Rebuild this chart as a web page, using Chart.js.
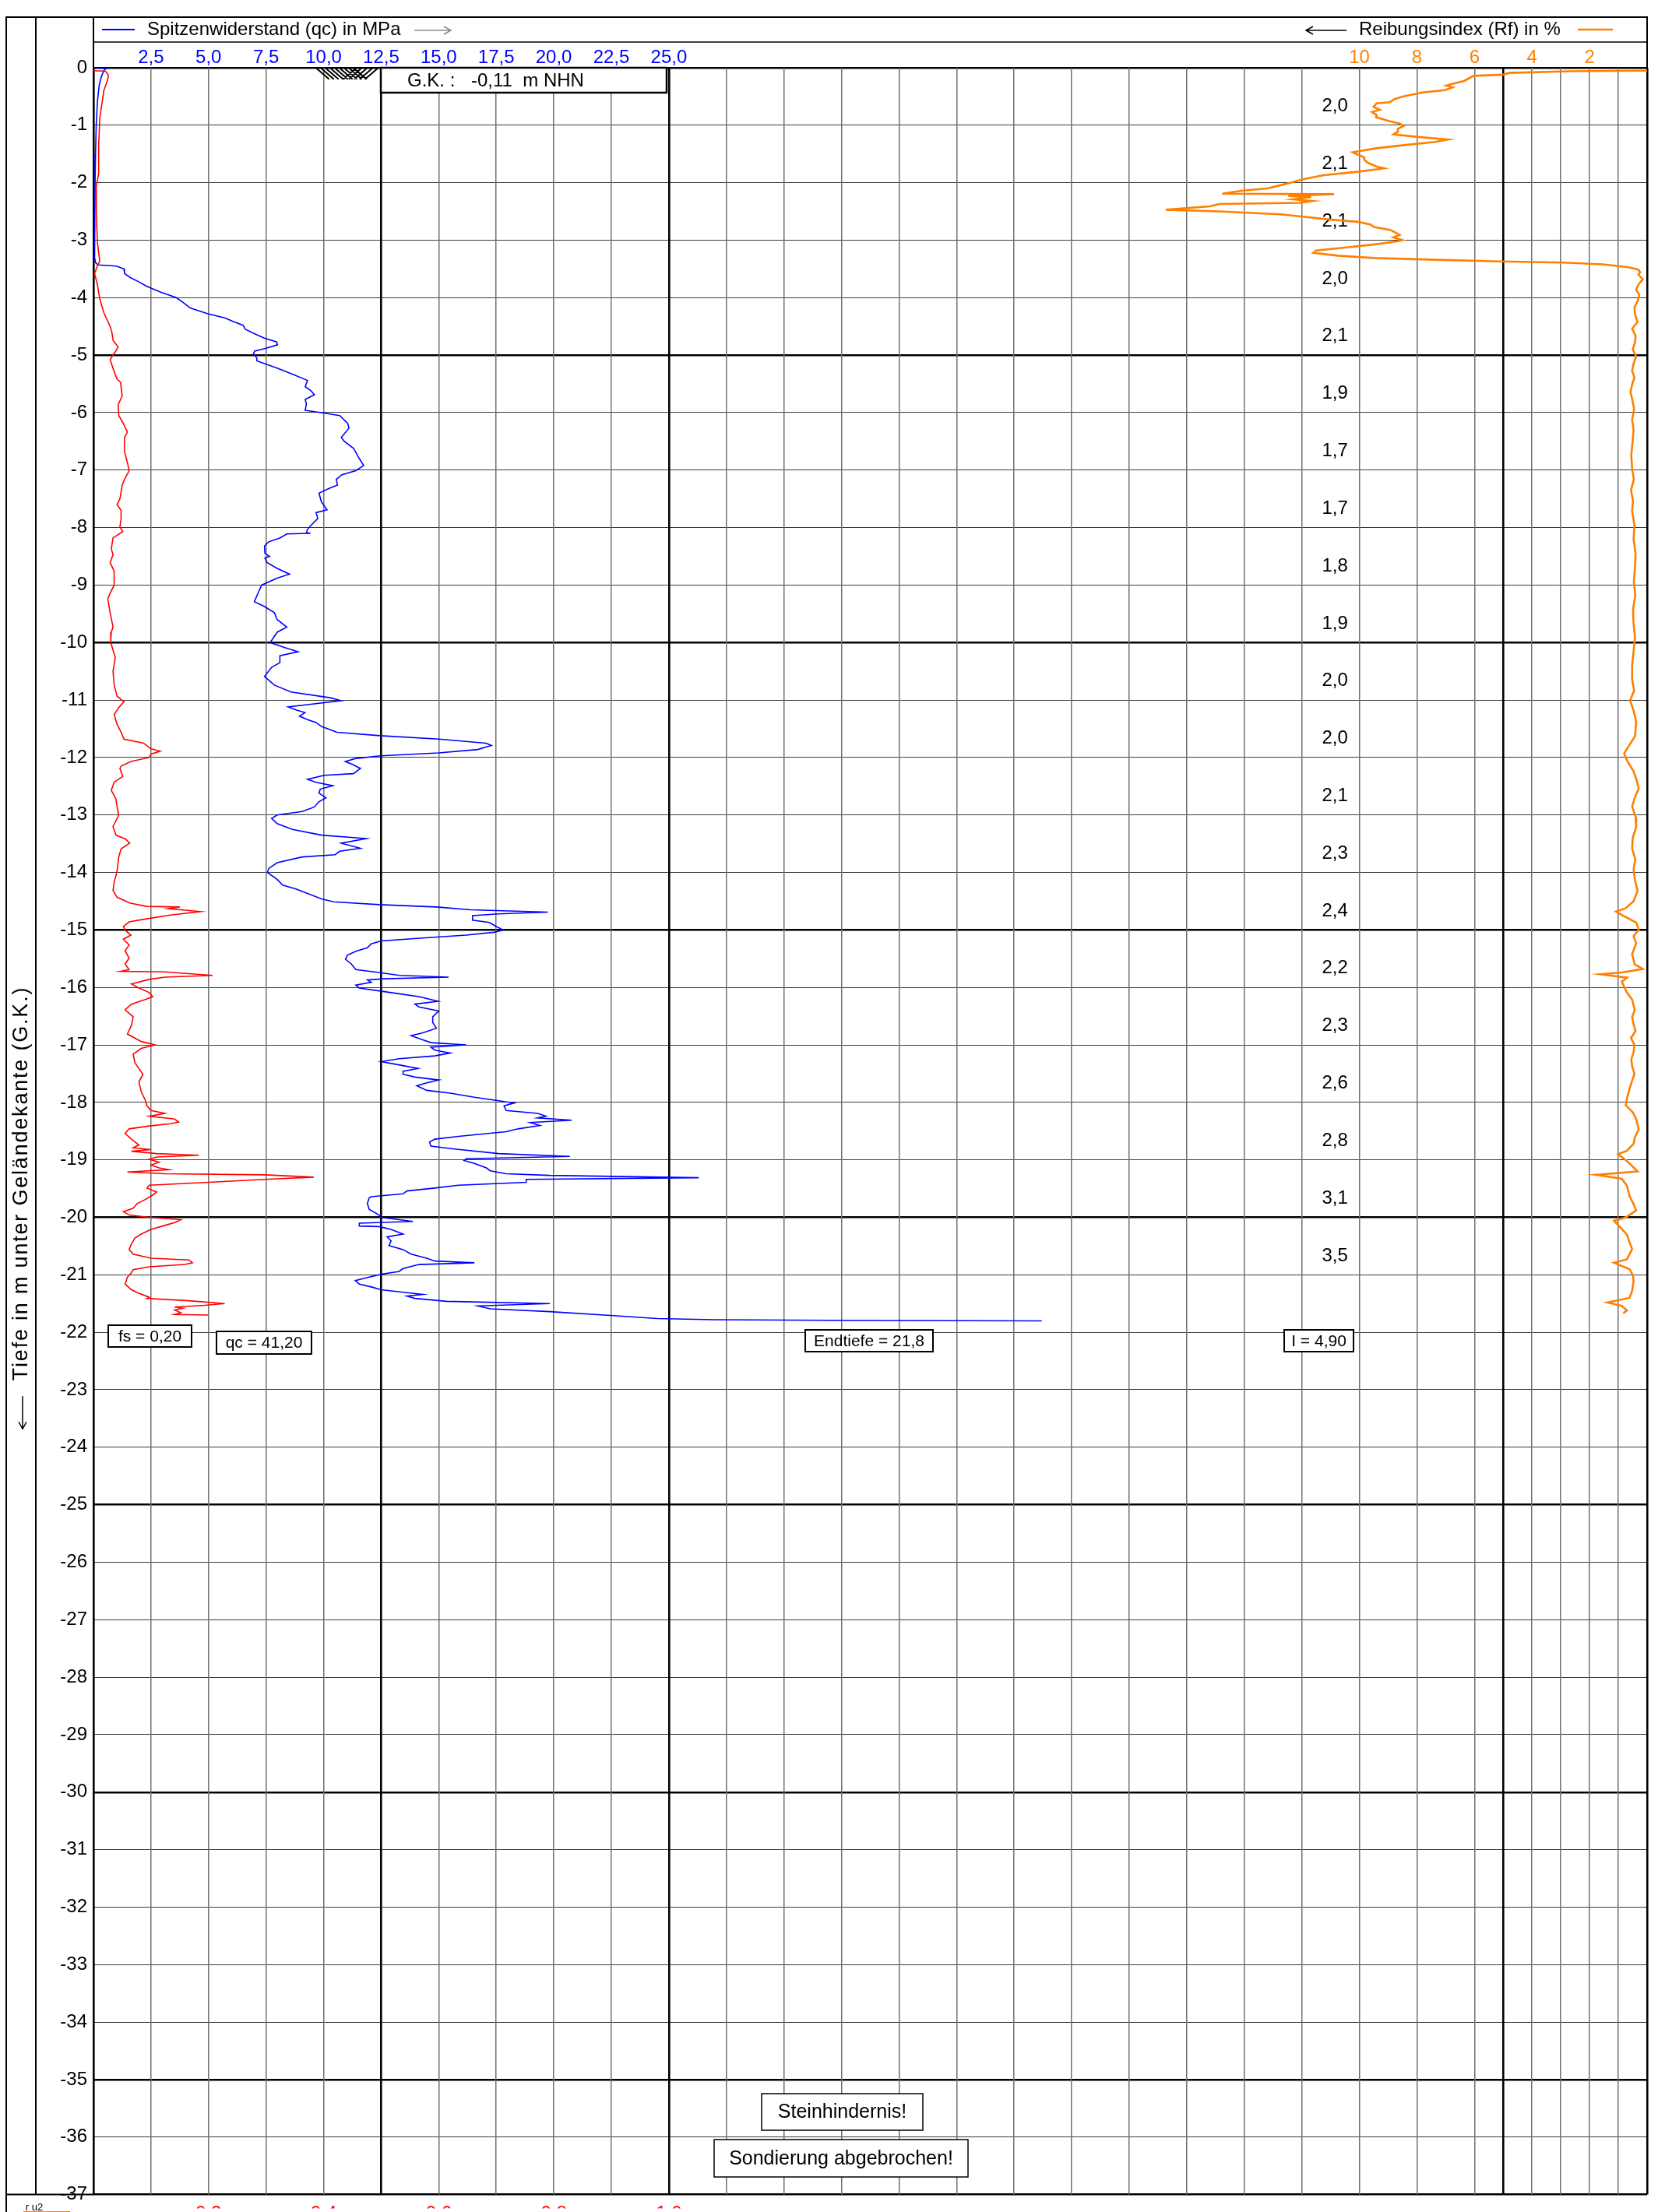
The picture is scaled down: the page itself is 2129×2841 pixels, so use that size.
<!DOCTYPE html>
<html>
<head>
<meta charset="utf-8">
<script src="https://cdn.jsdelivr.net/npm/chart.js@4/dist/chart.umd.min.js"></script>
<style>
  html, body { margin: 0; padding: 0; background: #fff; }
  canvas { display: block; }
</style>
</head>
<body>
<canvas id="cpt" width="2129" height="2841"></canvas>
<script>
// Drucksondierung: Spitzenwiderstand qc, Mantelreibung fs, Reibungsindex Rf über die Tiefe

// --- Spitzenwiderstand qc [MPa] ---
const qcDepth = [0, -0.01, -0.05, -0.15, -0.3, -0.6, -1.0, -1.5, -2.0, -2.5, -3.0, -3.3, -3.39, -3.43, -3.45, -3.48, -3.5, -3.58, -3.65, -3.72, -3.8, -3.9, -4.0, -4.1, -4.18, -4.28, -4.35, -4.42, -4.48, -4.55, -4.62, -4.7, -4.77, -4.82, -4.88, -4.93, -4.98, -5.05, -5.1, -5.23, -5.34, -5.44, -5.55, -5.62, -5.69, -5.77, -5.85, -5.96, -6.0, -6.05, -6.19, -6.27, -6.43, -6.5, -6.62, -6.8, -6.92, -7.01, -7.08, -7.16, -7.26, -7.31, -7.4, -7.55, -7.69, -7.74, -7.84, -7.94, -8.03, -8.09, -8.1, -8.11, -8.18, -8.25, -8.32, -8.45, -8.5, -8.53, -8.61, -8.71, -8.81, -8.88, -9.0, -9.14, -9.29, -9.36, -9.48, -9.6, -9.73, -9.82, -10.0, -10.09, -10.16, -10.23, -10.35, -10.43, -10.59, -10.74, -10.86, -10.96, -11.01, -11.08, -11.12, -11.17, -11.22, -11.28, -11.34, -11.39, -11.46, -11.56, -11.62, -11.68, -11.75, -11.79, -11.86, -11.92, -11.97, -12.02, -12.07, -12.12, -12.19, -12.28, -12.31, -12.38, -12.43, -12.49, -12.55, -12.62, -12.7, -12.77, -12.86, -12.94, -13.0, -13.06, -13.15, -13.25, -13.35, -13.41, -13.49, -13.58, -13.63, -13.69, -13.73, -13.83, -13.93, -14.0, -14.12, -14.22, -14.29, -14.46, -14.51, -14.56, -14.6, -14.65, -14.69, -14.72, -14.75, -14.83, -14.87, -14.94, -15.0, -15.04, -15.09, -15.14, -15.19, -15.24, -15.31, -15.37, -15.44, -15.51, -15.59, -15.69, -15.74, -15.79, -15.82, -15.85, -15.87, -15.91, -15.96, -16.01, -16.06, -16.11, -16.16, -16.24, -16.29, -16.34, -16.41, -16.51, -16.61, -16.71, -16.79, -16.84, -16.91, -16.96, -17.0, -17.04, -17.09, -17.14, -17.19, -17.24, -17.29, -17.36, -17.41, -17.46, -17.51, -17.56, -17.61, -17.66, -17.71, -17.79, -17.84, -17.91, -17.97, -18.01, -18.06, -18.14, -18.19, -18.24, -18.27, -18.31, -18.35, -18.4, -18.46, -18.51, -18.59, -18.64, -18.69, -18.76, -18.81, -18.89, -18.94, -18.98, -19.01, -19.06, -19.14, -19.19, -19.24, -19.27, -19.31, -19.34, -19.39, -19.44, -19.49, -19.54, -19.59, -19.64, -19.66, -19.76, -19.86, -19.96, -20.0, -20.04, -20.07, -20.1, -20.15, -20.16, -20.21, -20.29, -20.34, -20.41, -20.49, -20.56, -20.64, -20.71, -20.76, -20.79, -20.82, -20.89, -20.94, -20.99, -21.04, -21.1, -21.16, -21.21, -21.26, -21.31, -21.34, -21.37, -21.41, -21.46, -21.5, -21.54, -21.59, -21.64, -21.71, -21.76, -21.78, -21.79, -21.8];
const qcMPa = [0, 0.55, 0.45, 0.35, 0.25, 0.17, 0.12, 0.09, 0.07, 0.06, 0.05, 0.05, 0.09, 0.2, 1.0, 1.2, 1.33, 1.35, 1.6, 1.95, 2.3, 2.9, 3.6, 3.95, 4.2, 4.97, 5.7, 6.1, 6.5, 6.6, 6.95, 7.4, 7.96, 8.0, 7.5, 7.0, 6.95, 7.1, 7.1, 8.0, 8.7, 9.3, 9.2, 9.45, 9.6, 9.2, 9.25, 9.2, 9.9, 10.7, 11.05, 11.1, 10.77, 10.9, 11.3, 11.55, 11.74, 11.4, 10.8, 10.55, 10.6, 10.28, 9.8, 9.9, 10.15, 9.67, 9.75, 9.5, 9.3, 9.25, 9.43, 8.4, 8.1, 7.6, 7.43, 7.45, 7.65, 7.45, 7.55, 7.98, 8.52, 7.98, 7.31, 7.15, 6.99, 7.37, 7.86, 7.98, 8.4, 7.98, 7.68, 8.34, 8.89, 8.1, 8.1, 7.74, 7.43, 7.86, 8.58, 10.28, 10.76, 9.3, 8.46, 8.8, 9.19, 8.95, 9.3, 9.67, 9.91, 10.58, 12.45, 15.0, 17.05, 17.29, 16.7, 15.0, 12.45, 11.36, 10.94, 11.25, 11.6, 11.3, 10.03, 9.3, 9.67, 10.4, 9.85, 9.8, 10.1, 9.79, 9.6, 9.07, 7.98, 7.74, 7.98, 8.64, 9.91, 11.85, 10.76, 11.6, 10.7, 10.5, 9.07, 7.98, 7.62, 7.56, 7.98, 8.22, 8.82, 9.91, 10.43, 12.41, 14.9, 16.38, 19.74, 17.6, 16.47, 16.47, 17.2, 17.5, 17.8, 17.4, 16.2, 14.3, 12.5, 12.07, 11.9, 11.4, 11.03, 10.95, 11.2, 11.4, 12.4, 13.3, 15.43, 12.6, 11.9, 12.07, 11.4, 11.55, 12.41, 13.28, 14.14, 14.97, 13.97, 14.14, 15.0, 14.74, 14.74, 14.9, 14.31, 13.8, 14.31, 14.66, 16.2, 14.66, 14.83, 15.5, 14.83, 13.28, 12.5, 13.45, 14.1, 13.45, 13.45, 13.97, 15.0, 14.48, 14.05, 14.48, 15.5, 16.55, 17.6, 18.28, 17.84, 17.93, 19.3, 19.66, 19.3, 20.78, 18.97, 19.4, 18.45, 17.93, 15.86, 14.83, 14.6, 14.66, 15.69, 17.6, 20.7, 16.2, 16.1, 16.55, 17.07, 17.24, 17.93, 19.83, 26.3, 18.8, 18.8, 15.86, 14.83, 13.62, 13.45, 12.07, 11.98, 11.9, 11.98, 12.41, 12.5, 13.28, 13.88, 11.55, 11.55, 12.41, 12.93, 13.45, 12.76, 12.93, 12.84, 13.45, 13.8, 14.48, 14.83, 16.55, 14.14, 13.45, 13.28, 12.5, 11.98, 11.38, 11.55, 12.07, 12.5, 13.62, 14.31, 13.62, 13.97, 15.34, 19.83, 16.7, 17.24, 19.83, 22.6, 24.5, 27.0, 32.0, 41.2];

// --- Mantelreibung fs [MPa] ---
const fsDepth = [-0.05, -0.06, -0.13, -0.2, -0.4, -0.88, -1.36, -1.84, -2.09, -2.57, -3.05, -3.37, -3.44, -3.58, -3.78, -4.02, -4.26, -4.5, -4.6, -4.74, -4.86, -4.94, -5.03, -5.08, -5.23, -5.42, -5.47, -5.71, -5.86, -6.05, -6.19, -6.34, -6.43, -6.68, -6.87, -7.01, -7.16, -7.26, -7.5, -7.6, -7.7, -7.84, -7.99, -8.07, -8.18, -8.37, -8.47, -8.61, -8.76, -9.0, -9.14, -9.24, -9.48, -9.73, -9.82, -10.0, -10.26, -10.5, -10.74, -10.93, -11.03, -11.13, -11.25, -11.42, -11.56, -11.68, -11.75, -11.85, -11.89, -11.94, -12.0, -12.07, -12.15, -12.19, -12.33, -12.43, -12.57, -12.72, -12.86, -13.0, -13.2, -13.35, -13.42, -13.49, -13.59, -13.73, -13.98, -14.17, -14.31, -14.43, -14.53, -14.59, -14.6, -14.63, -14.68, -14.74, -14.81, -14.86, -14.94, -15.0, -15.09, -15.16, -15.26, -15.36, -15.49, -15.59, -15.69, -15.72, -15.73, -15.79, -15.82, -15.86, -15.94, -16.01, -16.09, -16.16, -16.21, -16.29, -16.39, -16.51, -16.66, -16.81, -16.94, -17.0, -17.06, -17.16, -17.31, -17.51, -17.64, -17.81, -17.96, -18.06, -18.14, -18.19, -18.24, -18.29, -18.34, -18.37, -18.41, -18.46, -18.54, -18.64, -18.74, -18.79, -18.82, -18.85, -18.89, -18.92, -18.95, -18.99, -19.04, -19.09, -19.14, -19.17, -19.21, -19.24, -19.26, -19.3, -19.34, -19.39, -19.44, -19.49, -19.56, -19.61, -19.69, -19.76, -19.84, -19.9, -19.96, -20.0, -20.04, -20.09, -20.14, -20.21, -20.29, -20.36, -20.46, -20.56, -20.64, -20.71, -20.74, -20.79, -20.82, -20.86, -20.91, -20.96, -21.04, -21.16, -21.26, -21.32, -21.39, -21.41, -21.45, -21.5, -21.53, -21.56, -21.58, -21.61, -21.66, -21.69, -21.7];
const fsMPa = [0.0, 0.021, 0.026, 0.025, 0.018, 0.011, 0.009, 0.009, 0.0045, 0.005, 0.007, 0.011, 0.007, 0.002, 0.007, 0.011, 0.018, 0.029, 0.032, 0.034, 0.043, 0.038, 0.032, 0.029, 0.034, 0.041, 0.047, 0.05, 0.043, 0.044, 0.052, 0.059, 0.054, 0.054, 0.059, 0.062, 0.054, 0.05, 0.046, 0.041, 0.048, 0.048, 0.046, 0.051, 0.034, 0.031, 0.034, 0.029, 0.036, 0.036, 0.029, 0.025, 0.029, 0.034, 0.031, 0.03, 0.038, 0.034, 0.036, 0.041, 0.053, 0.044, 0.036, 0.041, 0.048, 0.053, 0.087, 0.1, 0.116, 0.1, 0.097, 0.065, 0.048, 0.046, 0.051, 0.036, 0.031, 0.039, 0.041, 0.044, 0.034, 0.039, 0.056, 0.063, 0.048, 0.044, 0.041, 0.036, 0.034, 0.041, 0.063, 0.092, 0.15, 0.13, 0.186, 0.134, 0.09, 0.062, 0.052, 0.055, 0.065, 0.052, 0.062, 0.055, 0.062, 0.055, 0.062, 0.047, 0.124, 0.207, 0.124, 0.097, 0.066, 0.079, 0.097, 0.103, 0.09, 0.066, 0.055, 0.069, 0.066, 0.059, 0.083, 0.107, 0.083, 0.069, 0.072, 0.086, 0.079, 0.083, 0.09, 0.093, 0.1, 0.124, 0.097, 0.141, 0.148, 0.134, 0.097, 0.062, 0.055, 0.066, 0.079, 0.069, 0.1, 0.066, 0.11, 0.183, 0.11, 0.097, 0.114, 0.1, 0.114, 0.131, 0.059, 0.124, 0.297, 0.383, 0.297, 0.2, 0.097, 0.093, 0.11, 0.103, 0.09, 0.076, 0.069, 0.052, 0.062, 0.097, 0.152, 0.141, 0.124, 0.1, 0.083, 0.072, 0.066, 0.062, 0.069, 0.1, 0.166, 0.172, 0.159, 0.097, 0.069, 0.066, 0.059, 0.055, 0.066, 0.079, 0.097, 0.093, 0.166, 0.228, 0.193, 0.141, 0.155, 0.141, 0.152, 0.141, 0.20];

// --- Reibungsindex Rf [%] ---
const rfDepth = [-0.05, -0.06, -0.09, -0.12, -0.14, -0.2, -0.23, -0.27, -0.31, -0.34, -0.39, -0.43, -0.48, -0.5, -0.55, -0.6, -0.62, -0.68, -0.73, -0.77, -0.82, -0.86, -0.93, -0.97, -1.01, -1.06, -1.11, -1.16, -1.2, -1.25, -1.29, -1.35, -1.4, -1.47, -1.51, -1.56, -1.6, -1.65, -1.72, -1.75, -1.81, -1.87, -1.94, -2.0, -2.03, -2.1, -2.14, -2.19, -2.2, -2.23, -2.25, -2.29, -2.32, -2.35, -2.37, -2.41, -2.47, -2.5, -2.55, -2.59, -2.64, -2.68, -2.73, -2.77, -2.82, -2.86, -2.91, -2.95, -3.0, -3.02, -3.07, -3.13, -3.18, -3.22, -3.27, -3.31, -3.34, -3.37, -3.39, -3.42, -3.47, -3.51, -3.56, -3.6, -3.68, -3.77, -3.86, -3.95, -4.05, -4.17, -4.29, -4.42, -4.54, -4.66, -4.78, -4.9, -5.02, -5.15, -5.27, -5.39, -5.51, -5.64, -5.76, -5.94, -6.12, -6.3, -6.49, -6.74, -6.98, -7.16, -7.35, -7.53, -7.71, -7.96, -8.2, -8.45, -8.69, -8.94, -9.18, -9.43, -9.67, -9.91, -10.15, -10.4, -10.64, -10.83, -11.01, -11.2, -11.38, -11.63, -11.81, -11.93, -12.05, -12.24, -12.4, -12.54, -12.7, -12.85, -13.03, -13.21, -13.4, -13.58, -13.77, -13.95, -14.14, -14.32, -14.5, -14.62, -14.68, -14.74, -14.87, -14.99, -15.11, -15.23, -15.42, -15.6, -15.68, -15.74, -15.77, -15.83, -15.9, -16.09, -16.21, -16.39, -16.52, -16.64, -16.76, -16.88, -17.0, -17.13, -17.25, -17.37, -17.5, -17.62, -17.78, -17.93, -18.05, -18.17, -18.29, -18.47, -18.6, -18.72, -18.84, -18.9, -19.02, -19.2, -19.26, -19.33, -19.45, -19.63, -19.76, -19.88, -20.0, -20.06, -20.18, -20.3, -20.42, -20.55, -20.73, -20.79, -20.9, -21.0, -21.1, -21.28, -21.4, -21.48, -21.54, -21.62, -21.67];
const rfPercent = [0.0, 2.67, 4.8, 5.0, 6.03, 6.25, 6.36, 6.7, 6.98, 6.76, 7.03, 7.8, 8.3, 8.49, 8.8, 8.94, 9.4, 9.51, 9.29, 9.56, 9.4, 9.42, 8.94, 8.6, 8.46, 8.66, 8.66, 8.81, 8.04, 6.92, 7.37, 8.5, 9.4, 10.23, 10.06, 9.83, 9.83, 9.72, 9.4, 9.14, 10.06, 11.24, 11.97, 12.4, 12.63, 13.2, 14.1, 14.77, 10.88, 12.47, 11.68, 12.3, 11.63, 12.09, 14.88, 15.2, 16.73, 14.88, 12.75, 11.97, 11.07, 10.06, 9.6, 9.5, 8.94, 8.77, 8.6, 8.82, 8.5, 8.7, 9.4, 10.5, 11.5, 11.6, 10.74, 9.5, 7.37, 5.13, 2.9, 1.55, 0.65, 0.31, 0.24, 0.3, 0.15, 0.3, 0.38, 0.27, 0.32, 0.44, 0.42, 0.33, 0.52, 0.4, 0.42, 0.5, 0.38, 0.47, 0.52, 0.44, 0.52, 0.58, 0.52, 0.45, 0.52, 0.47, 0.5, 0.55, 0.52, 0.46, 0.56, 0.49, 0.52, 0.44, 0.47, 0.4, 0.42, 0.46, 0.41, 0.49, 0.47, 0.42, 0.47, 0.52, 0.52, 0.45, 0.59, 0.46, 0.38, 0.42, 0.65, 0.8, 0.7, 0.47, 0.36, 0.29, 0.43, 0.52, 0.4, 0.38, 0.5, 0.52, 0.41, 0.47, 0.42, 0.33, 0.47, 0.74, 1.08, 0.88, 0.38, 0.29, 0.47, 0.38, 0.52, 0.43, 0.15, 0.88, 1.62, 0.7, 0.88, 0.7, 0.52, 0.43, 0.52, 0.47, 0.4, 0.56, 0.44, 0.47, 0.55, 0.52, 0.44, 0.52, 0.62, 0.7, 0.74, 0.5, 0.38, 0.29, 0.42, 0.47, 0.7, 1.01, 0.7, 0.33, 1.78, 0.88, 0.7, 0.61, 0.48, 0.38, 0.74, 1.15, 0.92, 0.7, 0.62, 0.52, 0.7, 1.15, 0.61, 0.5, 0.47, 0.52, 0.61, 1.38, 0.88, 0.7, 0.83];

// --- Achsbeschriftungen ---
const depthTicks = { min: -37, max: 0, step: 1, majorEvery: 5 };
const qcTickValues = [2.5, 5, 7.5, 10, 12.5, 15, 17.5, 20, 22.5, 25];
const qcTickLabels = ['2,5', '5,0', '7,5', '10,0', '12,5', '15,0', '17,5', '20,0', '22,5', '25,0'];
const rfTickValues = [10, 8, 6, 4, 2];
const rfTickLabels = ['10', '8', '6', '4', '2'];
const rfFineValues = [5, 3, 1];
const fsTickValues = [0.2, 0.4, 0.6, 0.8, 1.0];
const fsTickLabels = ['0,2', '0,4', '0,6', '0,8', '1,0'];

// Bodenkennwerte je Meter (rechte Spalte)
const layerDepth = [-0.67, -1.67, -2.67, -3.67, -4.67, -5.67, -6.67, -7.67, -8.67, -9.67, -10.67, -11.67, -12.67, -13.67, -14.67, -15.67, -16.67, -17.67, -18.67, -19.67, -20.67];
const layerText = ['2,0', '2,1', '2,1', '2,0', '2,1', '1,9', '1,7', '1,7', '1,8', '1,9', '2,0', '2,0', '2,1', '2,3', '2,4', '2,2', '2,3', '2,6', '2,8', '3,1', '3,5'];

// Skalen: qc-Raster 2,5 MPa je Feld über 27 Felder, fs 0,1 MPa je Feld, Rf 2 % je Feld von rechts
const QC_MAX = 67.5;
const FS_MAX = 2.7;
const RF_MAX = 54;
const qcAtRf = rf => QC_MAX * (1 - rf / RF_MAX);

const BLUE = '#0000ff', RED = '#ff0000', ORANGE = '#ff8000';
const FONT = '"Liberation Sans", Arial, "DejaVu Sans", sans-serif';

// Blattaufteilung (Pixel)
const SHEET = { frameLeft: 8, frameTop: 22, colRight: 46, headerLine: 54 };

const qcGrid = [];
for (let k = 0; k <= 27; k++) qcGrid.push(k * 2.5);
rfFineValues.forEach(r => qcGrid.push(qcAtRf(r)));
qcGrid.sort((a, b) => a - b);
const boldQc = [0, 12.5, 25, qcAtRf(5), QC_MAX];
const isBoldQc = v => boldQc.some(b => Math.abs(b - v) < 1e-6);

function labelForQc(v) {
  const i = qcTickValues.findIndex(t => Math.abs(t - v) < 1e-6);
  if (i >= 0) return qcTickLabels[i];
  const j = rfTickValues.findIndex(r => Math.abs(qcAtRf(r) - v) < 1e-6);
  if (j >= 0) return rfTickLabels[j];
  return '';
}

// Zeichenelemente außerhalb der Kurven: Rahmen, Kopfzeile, Kästen
const sheetPlugin = {
  id: 'sheet',
  beforeDraw(chart) {
    const ctx = chart.ctx;
    ctx.save();
    ctx.fillStyle = '#fff';
    ctx.fillRect(0, 0, chart.width, chart.height);
    ctx.restore();
  },
  beforeDatasetsDraw(chart) {
    const { ctx, scales } = chart;
    const x = scales.x, y = scales.y;
    ctx.save();
    ctx.font = '24px ' + FONT;
    ctx.fillStyle = '#000';
    ctx.textAlign = 'right';
    ctx.textBaseline = 'middle';
    layerText.forEach((t, i) => ctx.fillText(t, x.getPixelForValue(54.5), y.getPixelForValue(layerDepth[i])));
    ctx.restore();
  },
  afterDatasetsDraw(chart) {
    const { ctx, scales } = chart;
    const x = scales.x, y = scales.y;
    const box = (q0, q1, d0, d1, text, size, lw) => {
      const l = Math.round(x.getPixelForValue(q0)), r = Math.round(x.getPixelForValue(q1));
      const t = Math.round(y.getPixelForValue(d0)), b = Math.round(y.getPixelForValue(d1));
      ctx.fillStyle = '#fff';
      ctx.fillRect(l, t, r - l, b - t);
      ctx.lineWidth = lw;
      ctx.strokeStyle = '#000';
      ctx.strokeRect(l, t, r - l, b - t);
      ctx.fillStyle = '#000';
      ctx.font = size + 'px ' + FONT;
      ctx.textAlign = 'center';
      ctx.textBaseline = 'middle';
      ctx.fillText(text, (l + r) / 2, (t + b) / 2 + 1);
    };
    ctx.save();
    box(0.64, 4.26, -21.88, -22.25, 'fs = 0,20', 21, 2);
    box(5.35, 9.47, -21.98, -22.37, 'qc = 41,20', 21, 2);
    box(30.93, 36.47, -21.96, -22.34, 'Endtiefe = 21,8', 21, 2);
    box(51.73, 54.74, -21.96, -22.34, 'I = 4,90', 21, 2);
    box(29.03, 36.03, -35.25, -35.88, 'Steinhindernis!', 25, 1.5);
    box(26.97, 37.99, -36.04, -36.69, 'Sondierung abgebrochen!', 25, 1.5);

    // Geländekante-Kasten
    const gl = Math.round(x.getPixelForValue(12.47)), gr = Math.round(x.getPixelForValue(24.9));
    const gt = Math.round(y.getPixelForValue(0)), gb = Math.round(y.getPixelForValue(-0.43));
    ctx.fillStyle = '#fff';
    ctx.fillRect(gl, gt, gr - gl, gb - gt);
    ctx.lineWidth = 2.5;
    ctx.strokeStyle = '#000';
    ctx.strokeRect(gl, gt, gr - gl, gb - gt);
    ctx.fillStyle = '#000';
    ctx.font = '24px ' + FONT;
    ctx.textAlign = 'left';
    ctx.textBaseline = 'middle';
    ctx.fillText('G.K. :', gl + 34, (gt + gb) / 2 + 1);
    ctx.fillText('-0,11  m NHN', gl + 116, (gt + gb) / 2 + 1);

    // Geländesymbol (Schraffur)
    const hx0 = x.getPixelForValue(9.7), hy0 = y.getPixelForValue(0), hy1 = y.getPixelForValue(-0.2);
    ctx.strokeStyle = '#000';
    ctx.lineWidth = 2;
    ctx.beginPath();
    for (let i = 0; i < 9; i++) {
      const sx = hx0 + i * 6;
      ctx.moveTo(sx, hy0 + 1); ctx.lineTo(sx + 16, hy1);
    }
    for (let i = 0; i < 5; i++) {
      const sx = hx0 + 34 + i * 7;
      ctx.moveTo(sx + 16, hy0 + 1); ctx.lineTo(sx, hy1);
    }
    ctx.stroke();
    ctx.restore();
  },
  afterDraw(chart) {
    const { ctx, chartArea: ca } = chart;
    const S = SHEET;
    ctx.save();
    ctx.strokeStyle = '#000';
    ctx.lineWidth = 2;
    ctx.beginPath();
    ctx.moveTo(S.frameLeft, chart.height); ctx.lineTo(S.frameLeft, S.frameTop); ctx.lineTo(ca.right, S.frameTop); ctx.lineTo(ca.right, ca.top);
    ctx.moveTo(S.colRight, S.frameTop); ctx.lineTo(S.colRight, ca.bottom);
    ctx.moveTo(ca.left, S.frameTop); ctx.lineTo(ca.left, ca.top);
    ctx.moveTo(S.frameLeft, ca.bottom); ctx.lineTo(ca.left, ca.bottom);
    ctx.stroke();
    ctx.lineWidth = 1.5;
    ctx.beginPath();
    ctx.moveTo(ca.left, S.headerLine); ctx.lineTo(ca.right, S.headerLine);
    ctx.stroke();

    // Kopfzeile: Legende
    const ly = (S.frameTop + S.headerLine) / 2;
    ctx.font = '24px ' + FONT;
    ctx.textBaseline = 'middle';
    ctx.lineWidth = 2;
    ctx.strokeStyle = BLUE;
    ctx.beginPath(); ctx.moveTo(131, ly); ctx.lineTo(173, ly); ctx.stroke();
    ctx.fillStyle = '#000';
    ctx.textAlign = 'left';
    ctx.fillText('Spitzenwiderstand (qc) in MPa', 189, ly);
    const arrow = (x0, x1, yy, color) => {
      ctx.strokeStyle = color; ctx.lineWidth = 1.5;
      const dir = Math.sign(x1 - x0);
      ctx.beginPath();
      ctx.moveTo(x0, yy); ctx.lineTo(x1, yy);
      ctx.moveTo(x1 - dir * 9, yy - 5); ctx.lineTo(x1, yy); ctx.lineTo(x1 - dir * 9, yy + 5);
      ctx.stroke();
    };
    arrow(532, 579, ly + 1, '#8a8a8a');
    arrow(1729, 1677, ly + 1, '#000');
    ctx.fillStyle = '#000';
    ctx.fillText('Reibungsindex (Rf) in %', 1745, ly);
    ctx.strokeStyle = ORANGE; ctx.lineWidth = 2.5;
    ctx.beginPath(); ctx.moveTo(2026, ly); ctx.lineTo(2071, ly); ctx.stroke();

    // Tiefenachse, gedreht
    ctx.save();
    ctx.translate(28, 1520);
    ctx.rotate(-Math.PI / 2);
    ctx.font = '27px ' + FONT;
    ctx.letterSpacing = '1.8px';
    ctx.fillStyle = '#000';
    ctx.textAlign = 'center';
    const title = 'Tiefe in m unter Geländekante (G.K.)';
    ctx.fillText(title, 0, 0);
    const w = ctx.measureText(title).width;
    ctx.letterSpacing = '0px';
    arrow(-w / 2 - 20, -w / 2 - 62, 1, '#000');
    ctx.restore();

    // Kennung unten links
    ctx.fillStyle = '#000';
    ctx.font = '13px ' + FONT;
    ctx.textAlign = 'center';
    ctx.textBaseline = 'top';
    ctx.fillText('r u2', 44, 2829);
    ctx.lineWidth = 1;
    ctx.beginPath(); ctx.moveTo(30, 2840.5); ctx.lineTo(90, 2840.5); ctx.stroke();
    ctx.restore();
  }
};

const qcData = qcDepth.map((d, i) => ({ x: qcMPa[i], y: d }));
const fsData = fsDepth.map((d, i) => ({ x: fsMPa[i], y: d }));
const rfData = rfDepth.map((d, i) => ({ x: rfPercent[i], y: d }));

new Chart(document.getElementById('cpt'), {
  type: 'scatter',
  data: {
    datasets: [
      { label: 'Mantelreibung (fs)', data: fsData, xAxisID: 'xFs', yAxisID: 'y', showLine: true, borderColor: RED, borderWidth: 1.6, pointRadius: 0, tension: 0 },
      { label: 'Spitzenwiderstand (qc)', data: qcData, xAxisID: 'x', yAxisID: 'y', showLine: true, borderColor: BLUE, borderWidth: 1.6, pointRadius: 0, tension: 0 },
      { label: 'Reibungsindex (Rf)', data: rfData, xAxisID: 'xRf', yAxisID: 'y', showLine: true, borderColor: ORANGE, borderWidth: 2.6, pointRadius: 0, tension: 0 }
    ]
  },
  options: {
    responsive: false,
    animation: false,
    devicePixelRatio: 1,
    events: [],
    layout: { padding: { left: SHEET.colRight, right: 14, top: SHEET.headerLine, bottom: 0 } },
    plugins: { legend: { display: false }, tooltip: { enabled: false } },
    scales: {
      y: {
        type: 'linear', position: 'left',
        min: depthTicks.min, max: depthTicks.max,
        ticks: { stepSize: depthTicks.step, autoSkip: false, color: '#000', font: { family: FONT, size: 24 }, padding: 8 },
        grid: {
          drawTicks: false,
          color: c => (c.tick.value % depthTicks.majorEvery === 0 || c.tick.value === depthTicks.min) ? '#000' : '#3a3a3a',
          lineWidth: c => (c.tick.value % depthTicks.majorEvery === 0 || c.tick.value === depthTicks.min) ? 2.6 : 1.1
        },
        border: { display: false },
        afterFit: s => { s.width = 74; }
      },
      x: {
        type: 'linear', position: 'top',
        min: 0, max: QC_MAX,
        afterBuildTicks: s => { s.ticks = qcGrid.map(v => ({ value: v })); },
        ticks: {
          autoSkip: false, maxRotation: 0, padding: -2,
          font: { family: FONT, size: 24 },
          color: c => (c.tick && c.tick.value > 30 ? ORANGE : BLUE),
          callback: v => labelForQc(v)
        },
        grid: {
          drawTicks: false,
          color: c => isBoldQc(c.tick.value) ? '#000' : '#707070',
          lineWidth: c => isBoldQc(c.tick.value) ? 2.6 : 1.5
        },
        border: { display: false },
        afterFit: s => { s.height = 33; }
      },
      xFs: {
        type: 'linear', position: 'bottom',
        min: 0, max: FS_MAX,
        afterBuildTicks: s => { s.ticks = fsTickValues.map(v => ({ value: v })); },
        ticks: {
          autoSkip: false, maxRotation: 0, padding: 10, color: RED,
          font: { family: FONT, size: 24 },
          callback: v => { const i = fsTickValues.findIndex(t => Math.abs(t - v) < 1e-6); return i >= 0 ? fsTickLabels[i] : ''; }
        },
        grid: { display: false, drawTicks: false },
        border: { display: false },
        afterFit: s => { s.height = 18; }
      },
      xRf: {
        type: 'linear', position: 'top', display: false,
        reverse: true, min: 0, max: RF_MAX
      }
    }
  },
  plugins: [sheetPlugin]
});
</script>
</body>
</html>
